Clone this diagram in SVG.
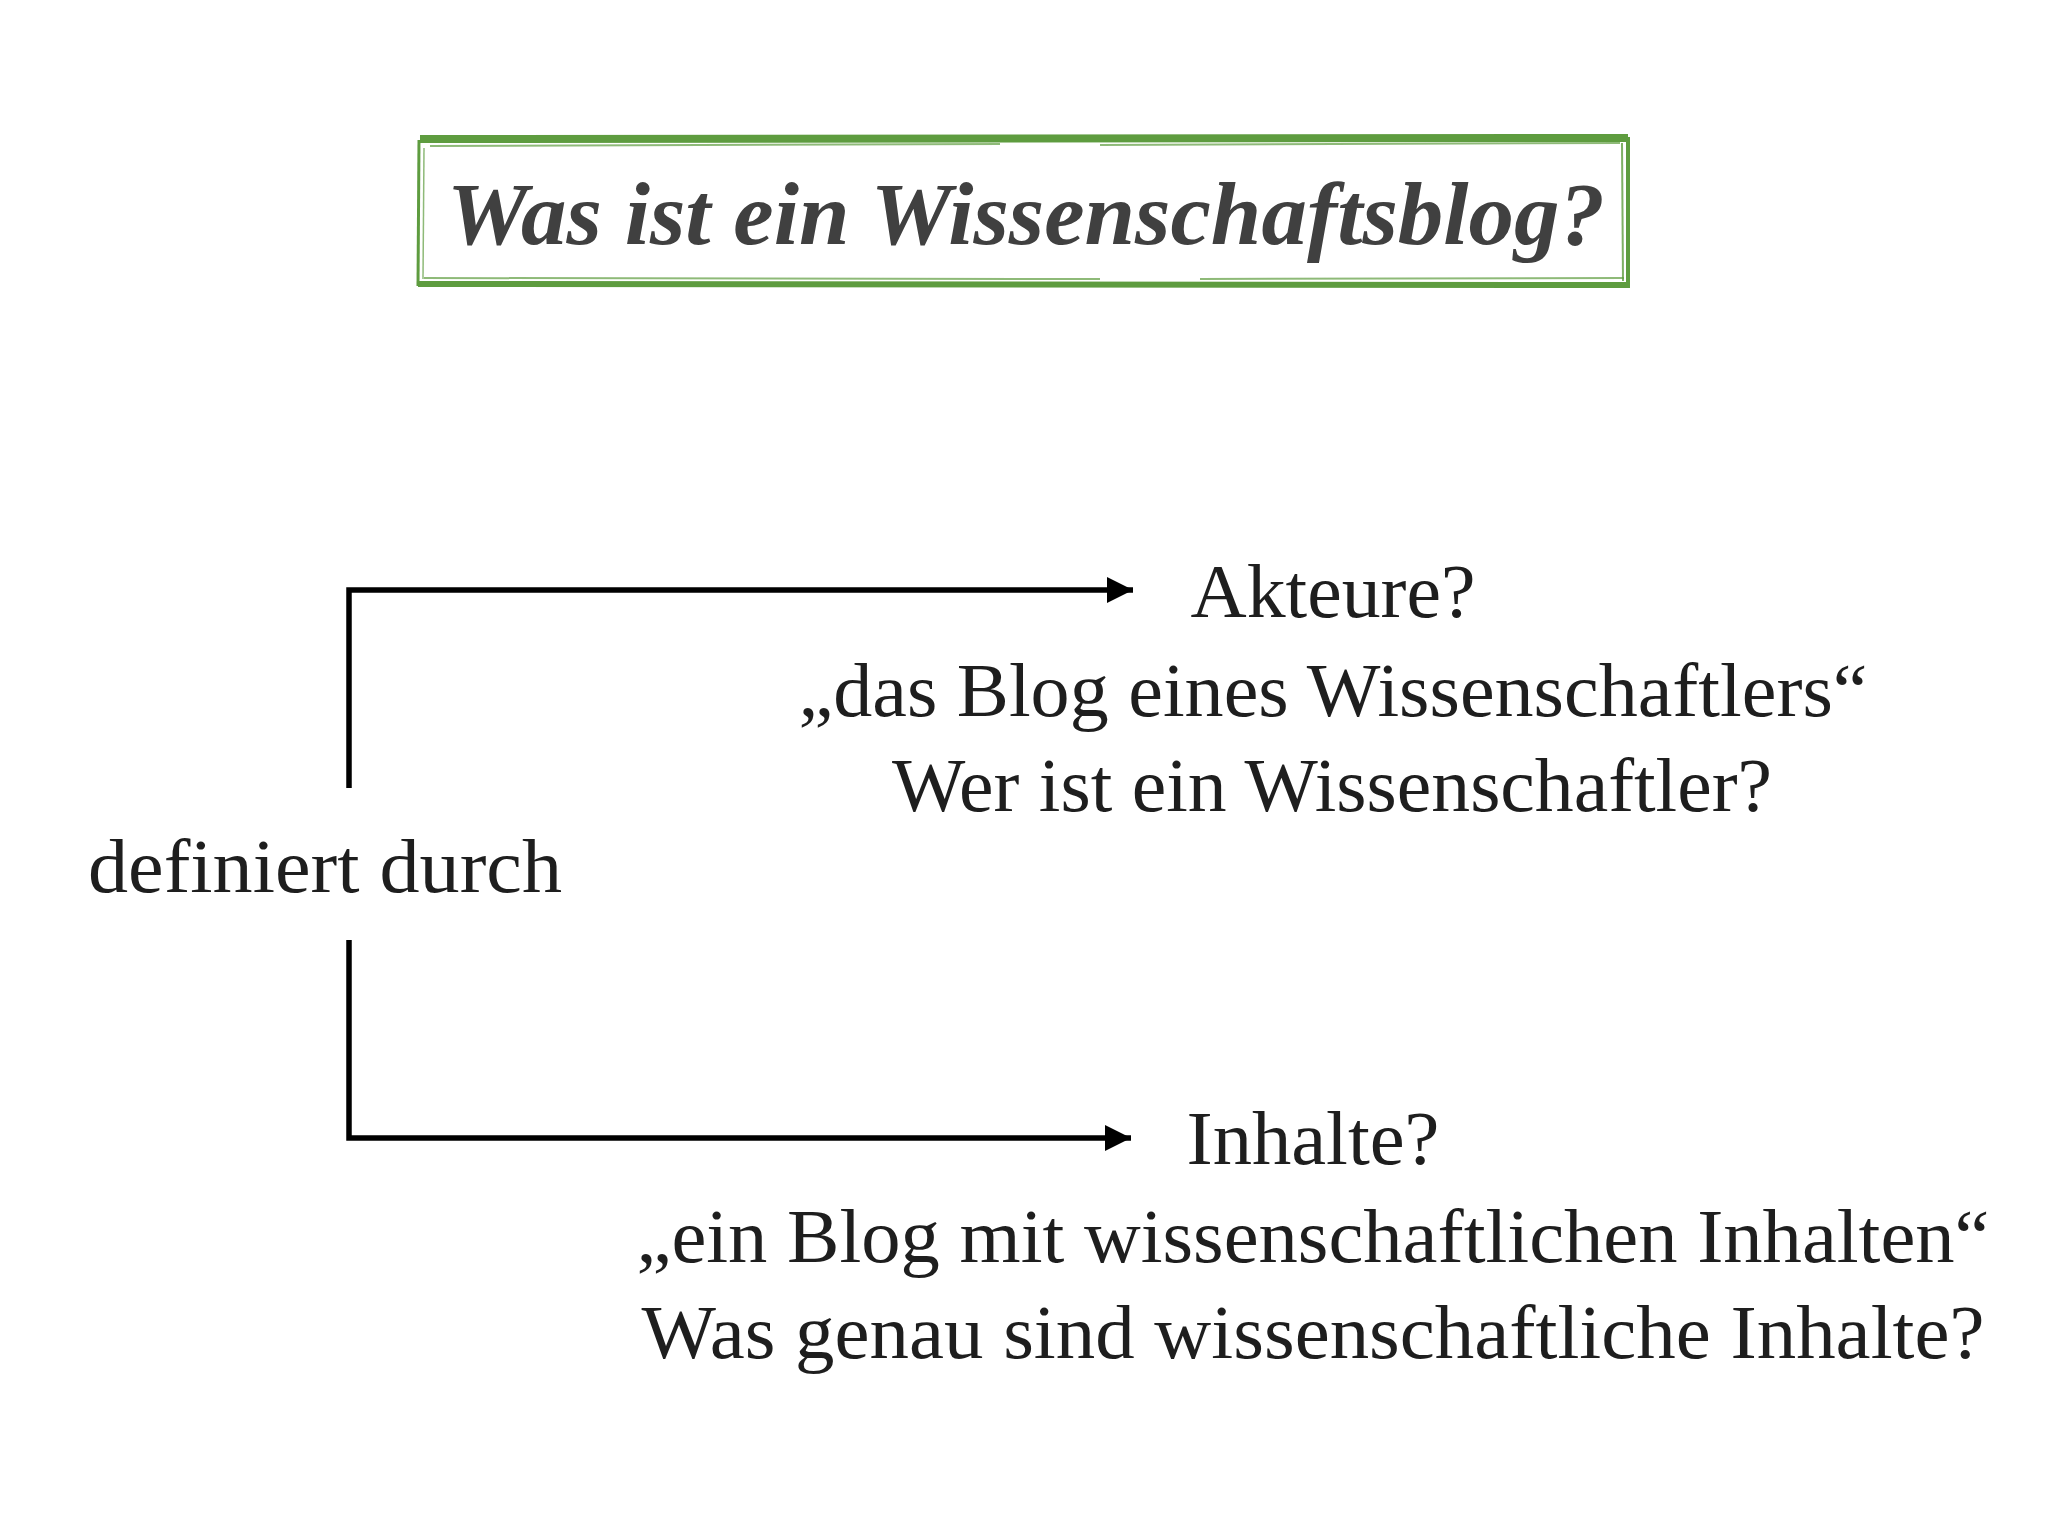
<svg xmlns="http://www.w3.org/2000/svg" width="2048" height="1536" viewBox="0 0 2048 1536">
<defs>
<style>
.t{font-family:"Liberation Serif","DejaVu Serif",serif;font-size:76px;fill:#1e1e1e;text-anchor:middle}
.title{font-family:"Liberation Serif","DejaVu Serif",serif;font-size:88px;font-weight:bold;font-style:italic;fill:#404040}
.conn{fill:none;stroke:#000;stroke-width:5.5}
.g{fill:none;stroke:#5e9c3f}
</style>
<marker id="ah" markerWidth="5" markerHeight="6" refX="4.8" refY="3" orient="auto" markerUnits="strokeWidth" viewBox="0 0 5 6">
<path d="M0,0.6 L4.8,3 L0,5.4 Z" fill="#000"/>
</marker>
</defs>
<rect width="2048" height="1536" fill="#fff"/>
<g id="title">
<path class="g" stroke-width="8" d="M420,139 L1628,138"/>
<path class="g" stroke-width="2" opacity="0.7" d="M430,146 L1000,144 M1100,145 L1620,143"/>
<path class="g" stroke-width="4" d="M1628,137 L1628,285"/>
<path class="g" stroke-width="2" opacity="0.8" d="M1622,143 L1623,281"/>
<path class="g" stroke-width="6" d="M418,284 L1630,285"/>
<path class="g" stroke-width="2" opacity="0.7" d="M424,278 L1100,279 M1200,279 L1624,278"/>
<path class="g" stroke-width="3" d="M419,140 L418,286"/>
<path class="g" stroke-width="1.5" opacity="0.7" d="M424,148 L423,279"/>
<text class="title" x="447" y="244" textLength="1158" lengthAdjust="spacingAndGlyphs">Was ist ein Wissenschaftsblog?</text>
</g>
<g id="connectors">
<path class="conn" d="M349,788 L349,590 L1133,590" marker-end="url(#ah)"/>
<path class="conn" d="M349,940 L349,1138 L1131,1138" marker-end="url(#ah)"/>
</g>
<g id="source">
<text class="t" x="325" y="892" textLength="474" lengthAdjust="spacingAndGlyphs">definiert durch</text>
</g>
<g id="akteure">
<text class="t" x="1333" y="617" textLength="285" lengthAdjust="spacingAndGlyphs">Akteure?</text>
<text class="t" x="1333" y="716" textLength="1069" lengthAdjust="spacingAndGlyphs">„das Blog eines Wissenschaftlers“</text>
<text class="t" x="1332" y="811" textLength="880" lengthAdjust="spacingAndGlyphs">Wer ist ein Wissenschaftler?</text>
</g>
<g id="inhalte">
<text class="t" x="1313" y="1164" textLength="253" lengthAdjust="spacingAndGlyphs">Inhalte?</text>
<text class="t" x="1313" y="1262" textLength="1353" lengthAdjust="spacingAndGlyphs">„ein Blog mit wissenschaftlichen Inhalten“</text>
<text class="t" x="1313" y="1358" textLength="1343" lengthAdjust="spacingAndGlyphs">Was genau sind wissenschaftliche Inhalte?</text>
</g>
</svg>
